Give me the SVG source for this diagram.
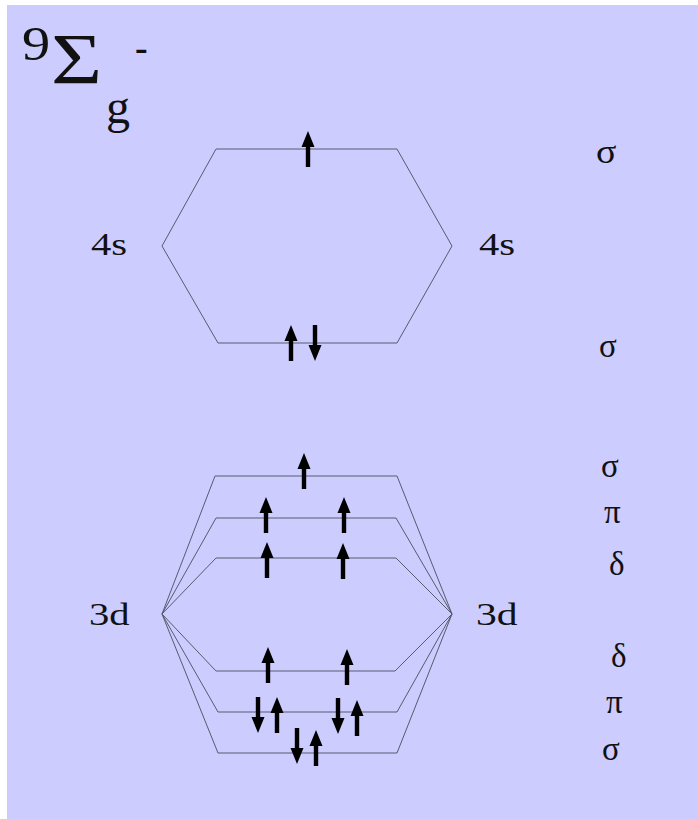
<svg xmlns="http://www.w3.org/2000/svg" width="698" height="819" viewBox="0 0 698 819">
<defs>
<style>
.lvl{stroke:#5a5a6e;stroke-width:1;fill:none}
.con{stroke:#5a5a6e;stroke-width:1;fill:none}
.arr{fill:#000}
.ao{font-size:32px}
.gk{font-size:33px}
</style>
<path id="up" class="arr" d="M0,0 L6.5,16 L2.2,16 L2.2,36 L-2.2,36 L-2.2,16 L-6.5,16 Z"/>
<path id="dn" class="arr" d="M0,36 L6.5,20 L2.2,20 L2.2,0 L-2.2,0 L-2.2,20 L-6.5,20 Z"/>
</defs>
<rect x="0" y="0" width="698" height="819" fill="#ffffff"/>
<rect x="7" y="5" width="691" height="814" fill="#ccccff"/>

<g font-family="'Liberation Serif', 'Times New Roman', serif" fill="#111">
<g id="term">
<text transform="matrix(1.15,0,0,1,22,60)" font-size="49">9</text>
<text transform="matrix(1.22,0,0,1,51,83)" font-size="72">Σ</text>
<text transform="matrix(1,0,0,1,106,123)" font-size="48">g</text>
<text transform="matrix(1,0,0,1,135,60)" font-size="38" font-weight="bold">-</text>
</g>

<g id="ao-4s-left"><text class="ao" transform="matrix(1.27,0,0,1,91,255)">4s</text></g>
<g id="ao-4s-right"><text class="ao" transform="matrix(1.27,0,0,1,479,255)">4s</text></g>
<g id="ao-3d-left"><text class="ao" transform="matrix(1.27,0,0,1,89,625)">3d</text></g>
<g id="ao-3d-right"><text class="ao" transform="matrix(1.3,0,0,1,476,625)">3d</text></g>

<g id="mo-4s-sigma-star">
<line class="lvl" x1="216" y1="149" x2="397" y2="149"/>
<use href="#up" x="308" y="131"/>
<text class="gk" transform="matrix(1.15,0,0,1,596,163)">σ</text>
</g>
<g id="mo-4s-sigma">
<line class="lvl" x1="218" y1="343" x2="397" y2="343"/>
<use href="#up" x="291" y="325"/>
<use href="#dn" x="315" y="325"/>
<text class="gk" x="599" y="357">σ</text>
</g>

<g id="mo-3d-sigma-star">
<line class="lvl" x1="215" y1="476" x2="397" y2="476"/>
<use href="#up" x="304" y="453"/>
<text class="gk" x="601" y="477">σ</text>
</g>
<g id="mo-3d-pi-star">
<line class="lvl" x1="216" y1="518" x2="396" y2="518"/>
<use href="#up" x="266" y="497"/>
<use href="#up" x="344" y="497"/>
<text class="gk" x="604" y="523">π</text>
</g>
<g id="mo-3d-delta-star">
<line class="lvl" x1="216" y1="558" x2="396" y2="558"/>
<use href="#up" x="267" y="542"/>
<use href="#up" x="343" y="543"/>
<text class="gk" x="609" y="575">δ</text>
</g>
<g id="mo-3d-delta">
<line class="lvl" x1="216" y1="671" x2="395" y2="671"/>
<use href="#up" x="268" y="647"/>
<use href="#up" x="347" y="649"/>
<text class="gk" x="611" y="667">δ</text>
</g>
<g id="mo-3d-pi">
<line class="lvl" x1="218" y1="712" x2="397" y2="712"/>
<use href="#dn" x="258" y="697"/>
<use href="#up" x="277" y="697"/>
<use href="#dn" x="338" y="698"/>
<use href="#up" x="357" y="700"/>
<text class="gk" x="606" y="713">π</text>
</g>
<g id="mo-3d-sigma">
<line class="lvl" x1="218" y1="753" x2="397" y2="753"/>
<use href="#dn" x="297" y="728"/>
<use href="#up" x="316" y="730"/>
<text class="gk" x="602" y="760">σ</text>
</g>
</g>

<g id="connectors">
<line class="con" x1="162" y1="246" x2="216" y2="149"/>
<line class="con" x1="397" y1="149" x2="452" y2="246"/>
<line class="con" x1="162" y1="246" x2="218" y2="343"/>
<line class="con" x1="397" y1="343" x2="452" y2="246"/>
<line class="con" x1="162" y1="614" x2="215" y2="476"/>
<line class="con" x1="162" y1="614" x2="216" y2="518"/>
<line class="con" x1="162" y1="614" x2="216" y2="558"/>
<line class="con" x1="162" y1="614" x2="216" y2="671"/>
<line class="con" x1="162" y1="614" x2="218" y2="712"/>
<line class="con" x1="162" y1="614" x2="218" y2="753"/>
<line class="con" x1="397" y1="476" x2="452" y2="614"/>
<line class="con" x1="396" y1="518" x2="452" y2="614"/>
<line class="con" x1="396" y1="558" x2="452" y2="614"/>
<line class="con" x1="395" y1="671" x2="452" y2="614"/>
<line class="con" x1="397" y1="712" x2="452" y2="614"/>
<line class="con" x1="397" y1="753" x2="452" y2="614"/>
</g>
</svg>
